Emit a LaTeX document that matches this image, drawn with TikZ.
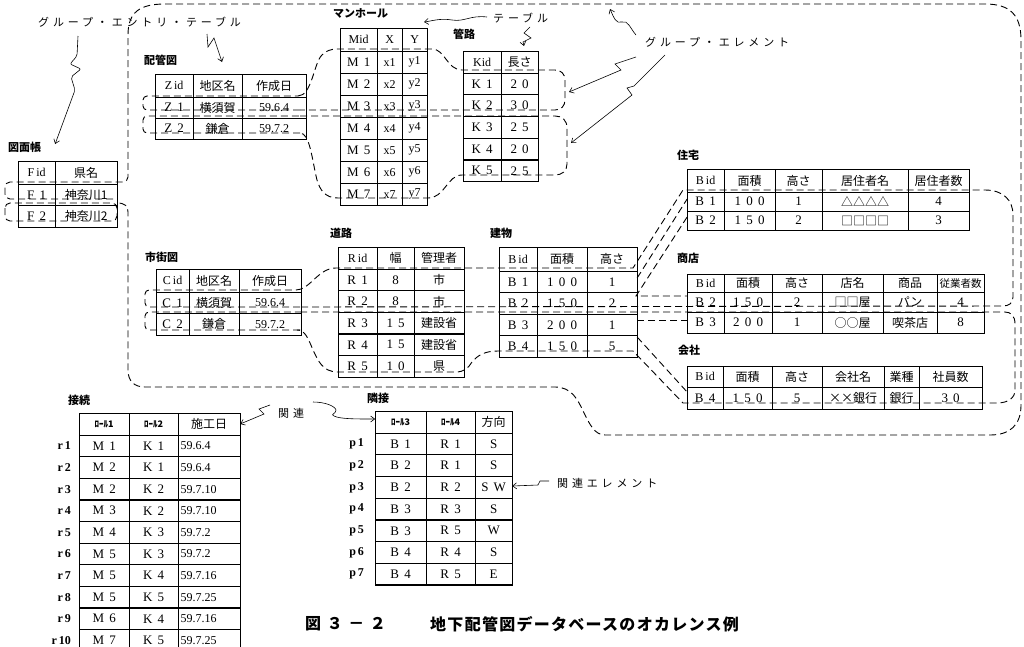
\documentclass[tikz,border=0pt]{standalone}
\usepackage{fontspec}
\usetikzlibrary{matrix,arrows.meta}
\setmainfont{Liberation Serif}
\newfontfamily\jp{Noto Sans CJK JP}
\newfontfamily\jpsp[LetterSpace=35]{Noto Sans CJK JP}
\newfontfamily\jpcap[LetterSpace=8]{Noto Sans CJK JP}
\newfontfamily\jpcapw[LetterSpace=35]{Noto Sans CJK JP}
\newfontfamily\srsp[LetterSpace=40]{Liberation Serif}
\newcommand\J[1]{{\jp\fontsize{12}{12}\selectfont #1}}
\newcommand\Js[1]{{\jp\fontsize{10.5}{10.5}\selectfont #1}}
\newcommand\D[1]{{\rmfamily\fontsize{12}{12}\selectfont #1}}
\newcommand\Rl[1]{{\jp\bfseries\fontsize{9}{9}\selectfont #1}}
\tikzset{
  tbl/.style={matrix of nodes, anchor=north west, column sep=-1.2pt, row sep=-1.2pt,
    nodes={draw, line width=1.2pt, inner sep=0pt, outer sep=0pt, anchor=center,
      minimum height=#1, font=\srsp\fontsize{13}{13}\selectfont}},
  ttl/.style={anchor=west, inner sep=0pt, font=\jp\bfseries\fontsize{11}{11}\selectfont},
  lbl/.style={anchor=west, inner sep=0pt, font=\jpsp\fontsize{11}{11}\selectfont},
  rl/.style={anchor=east, inner sep=0pt, font=\bfseries\fontsize{12}{12}\selectfont},
  grp/.style={dash pattern=on 7pt off 4pt, line width=0.9pt},
  ann/.style={line width=0.6pt, -{Straight Barb[length=4pt,width=6pt]}},
}
\begin{document}
\begin{tikzpicture}[x=1pt,y=-1pt]
\useasboundingbox (0,0) rectangle (1024,646);

% ---------- titles ----------
\node[ttl] (t-fid) at (8,147) {図面帳};
\node[ttl] (t-zt) at (144,60) {配管図};
\node[ttl] (t-mh) at (333,13) {マンホール};
\node[ttl] (t-kr) at (453,34) {管路};
\node[ttl] (t-ct) at (145,257) {市街図};
\node[ttl] (t-rd) at (330,233) {道路};
\node[ttl] (t-bd) at (490,233) {建物};
\node[ttl] (t-hs) at (677,155) {住宅};
\node[ttl] (t-sh) at (677,258) {商店};
\node[ttl] (t-co) at (678,350) {会社};
\node[ttl] (t-cn) at (68,400) {接続};
\node[ttl] (t-nb) at (367,398) {隣接};

% ---------- tables ----------
\matrix[tbl=21.5pt, row 1/.style={nodes={minimum height=23pt}},
  column 1/.style={nodes={minimum width=37pt}}, column 2/.style={nodes={minimum width=62pt}}]
  (fid) at (14,157) {
  \D{F\,id} & \J{県名}\\ F1 & \J{神奈川1}\\ F2 & \J{神奈川2}\\};

\matrix[tbl=21pt, row 1/.style={nodes={minimum height=23pt}},
  column 1/.style={nodes={minimum width=38pt}}, column 2/.style={nodes={minimum width=49pt}},
  column 3/.style={nodes={minimum width=64pt}}]
  (zt) at (151,70) {
  \D{Z\,id} & \J{地区名} & \J{作成日}\\ Z1 & \J{横須賀} & \D{59.6.4}\\ Z2 & \J{鎌倉} & \D{59.7.2}\\};

\matrix[tbl=22pt, row 1/.style={nodes={minimum height=23pt}},
  column 1/.style={nodes={minimum width=37pt}}, column 2/.style={nodes={minimum width=25pt}},
  column 3/.style={nodes={minimum width=25pt}}]
  (mh) at (336,24) {
  \D{Mid} & \D{X} & \D{Y}\\
  M1 & \D{x1} & \D{y1}\\ M2 & \D{x2} & \D{y2}\\ M3 & \D{x3} & \D{y3}\\ M4 & \D{x4} & \D{y4}\\
  M5 & \D{x5} & \D{y5}\\ M6 & \D{x6} & \D{y6}\\ M7 & \D{x7} & \D{y7}\\};

\matrix[tbl=21.7pt, row 1/.style={nodes={minimum height=22pt}},
  column 1/.style={nodes={minimum width=38pt}}, column 2/.style={nodes={minimum width=37pt}}]
  (kr) at (459,47) {
  \D{Kid} & \J{長さ}\\ K1 & 20\\ K2 & 30\\ K3 & 25\\ K4 & 20\\ K5 & 25\\};

\matrix[tbl=21.5pt, row 1/.style={nodes={minimum height=23pt}},
  column 1/.style={nodes={minimum width=33pt}}, column 2/.style={nodes={minimum width=50pt}},
  column 3/.style={nodes={minimum width=62pt}}]
  (ct) at (152,265) {
  \D{C\,id} & \J{地区名} & \J{作成日}\\ C1 & \J{横須賀} & \D{59.6.4}\\ C2 & \J{鎌倉} & \D{59.7.2}\\};

\matrix[tbl=21.6pt, row 1/.style={nodes={minimum height=22pt}},
  column 1/.style={nodes={minimum width=39pt}}, column 2/.style={nodes={minimum width=37pt}},
  column 3/.style={nodes={minimum width=50pt}}]
  (rd) at (334,243) {
  \D{R\,id} & \J{幅} & \J{管理者}\\ R1 & 8 & \J{市}\\ R2 & 8 & \J{市}\\
  R3 & 15 & \J{建設省}\\ R4 & 15 & \J{建設省}\\ R5 & 10 & \J{県}\\};

\matrix[tbl=21.5pt, row 1/.style={nodes={minimum height=24pt}},
  column 1/.style={nodes={minimum width=38pt}}, column 2/.style={nodes={minimum width=50pt}},
  column 3/.style={nodes={minimum width=50pt}}]
  (bd) at (495,243) {
  \D{B\,id} & \J{面積} & \J{高さ}\\ B1 & 100 & 1\\ B2 & 150 & 2\\ B3 & 200 & 1\\ B4 & 150 & 5\\};

\matrix[tbl=19pt, row 1/.style={nodes={minimum height=23pt}},
  column 1/.style={nodes={minimum width=37pt}}, column 2/.style={nodes={minimum width=51pt}},
  column 3/.style={nodes={minimum width=47pt}}, column 4/.style={nodes={minimum width=86pt}},
  column 5/.style={nodes={minimum width=61pt}}]
  (hs) at (683,165) {
  \D{B\,id} & \J{面積} & \J{高さ} & \J{居住者名} & \J{居住者数}\\
  B1 & 100 & 1 & \J{△△△△} & 4\\ B2 & 150 & 2 & \J{□□□□} & 3\\};

\matrix[tbl=20pt, row 1/.style={nodes={minimum height=18pt}}, row 3/.style={nodes={minimum height=21pt}},
  column 1/.style={nodes={minimum width=37pt}}, column 2/.style={nodes={minimum width=48pt}},
  column 3/.style={nodes={minimum width=50pt}}, column 4/.style={nodes={minimum width=61pt}},
  column 5/.style={nodes={minimum width=54pt}}, column 6/.style={nodes={minimum width=47pt}}]
  (sh) at (683,270) {
  \D{B\,id} & \J{面積} & \J{高さ} & \J{店名} & \J{商品} & \Js{従業者数}\\
  B2 & 150 & 2 & \J{□□屋} & \J{パン} & 4\\ B3 & 200 & 1 & \J{○○屋} & \J{喫茶店} & 8\\};

\matrix[tbl=22pt, row 1/.style={nodes={minimum height=21pt}},
  column 1/.style={nodes={minimum width=36pt}}, column 2/.style={nodes={minimum width=49pt}},
  column 3/.style={nodes={minimum width=50pt}}, column 4/.style={nodes={minimum width=62pt}},
  column 5/.style={nodes={minimum width=35pt}}, column 6/.style={nodes={minimum width=63pt}}]
  (co) at (683,362) {
  \D{B\,id} & \J{面積} & \J{高さ} & \J{会社名} & \J{業種} & \J{社員数}\\
  B4 & 150 & 5 & \J{××銀行} & \J{銀行} & 30\\};

\matrix[tbl=21.6pt, row 1/.style={nodes={minimum height=22pt}},
  column 1/.style={nodes={minimum width=50pt}}, column 2/.style={nodes={minimum width=49pt}},
  column 3/.style={nodes={minimum width=62pt, text width=57pt, inner xsep=2.5pt, align=left}}]
  (cn) at (75,409) {
  \Rl{ﾛｰﾙ1} & \Rl{ﾛｰﾙ2} & |[align=center]| \J{施工日}\\
  M1 & K1 & \D{59.6.4}\\ M2 & K1 & \D{59.6.4}\\ M2 & K2 & \D{59.7.10}\\ M3 & K2 & \D{59.7.10}\\
  M4 & K3 & \D{59.7.2}\\ M5 & K3 & \D{59.7.2}\\ M5 & K4 & \D{59.7.16}\\ M5 & K5 & \D{59.7.25}\\
  M6 & K4 & \D{59.7.16}\\ M7 & K5 & \D{59.7.25}\\};

\matrix[tbl=21.7pt, row 1/.style={nodes={minimum height=22pt}},
  column 1/.style={nodes={minimum width=51pt}}, column 2/.style={nodes={minimum width=49pt}},
  column 3/.style={nodes={minimum width=37pt}}]
  (nb) at (371,407) {
  \Rl{ﾛｰﾙ3} & \Rl{ﾛｰﾙ4} & \J{方向}\\
  B1 & R1 & S\\ B2 & R1 & S\\ B2 & R2 & SW\\ B3 & R3 & S\\ B3 & R5 & W\\ B4 & R4 & S\\ B4 & R5 & E\\};

% row labels
\foreach \i in {1,...,10}{\pgfmathtruncatemacro\j{\i+1}
  \node[rl] (r\i) at ([xshift=-8pt]cn-\j-1.west) {r\,\i};}
\foreach \i in {1,...,7}{\pgfmathtruncatemacro\j{\i+1}
  \node[rl] (p\i) at ([xshift=-11pt]nb-\j-1.west) {p\,\i};}

% ---------- group outlines ----------
% F1 / F2 big outline
\draw[grp, rounded corners=5pt] (113,199) -- (5,199) -- (5,182) -- (128,182) -- (128,100);
\draw[grp] (128,100) -- (128,35) .. controls (128,12) and (140,4) .. (165,4) -- (985,4)
  .. controls (1010,4) and (1021,15) .. (1021,40) -- (1021,405)
  .. controls (1021,425) and (1010,435) .. (990,435) -- (605,435)
  .. controls (595,435) and (590,425) .. (584,413) .. controls (578,400) and (572,387) .. (555,387)
  -- (145,387) .. controls (134,387) and (128,381) .. (128,370) -- (128,212)
  .. controls (128,206) and (125,203) .. (117,203);
\draw[grp, rounded corners=5pt] (5,203) rectangle (117,221);

% Z1 group
\draw[grp, rounded corners=4pt] (300,110) -- (143,110) -- (143,96) -- (298,96);
\draw[grp] (298,96) .. controls (312,96) and (314,62) .. (322,55) .. controls (326,51) and (330,49) .. (338,49)
  -- (432,49) .. controls (445,49) and (447,70) .. (462,70) -- (555,70)
  .. controls (561,70) and (565,74) .. (565,80) -- (565,100) .. controls (565,106) and (561,110) .. (555,110) -- (300,110);
% Z2 group
\draw[grp, rounded corners=4pt] (300,133) -- (143,133) -- (143,116) -- (300,116);
\draw[grp] (300,116) -- (555,116) .. controls (562,116) and (567,120) .. (567,128) -- (567,164)
  .. controls (567,171) and (562,175) .. (555,175) -- (462,175) .. controls (447,175) and (445,198) .. (428,198)
  -- (338,198) .. controls (325,198) and (320,190) .. (317,180) .. controls (312,160) and (310,133) .. (300,133);

% C1 group
\draw[grp, rounded corners=4pt] (300,307) -- (145,307) -- (145,290) -- (296,290);
\draw[grp] (296,290) .. controls (310,290) and (318,268) .. (336,268) -- (633,268) -- (683,190) -- (985,190)
  .. controls (1003,190) and (1013,200) .. (1013,215) -- (1013,297)
  .. controls (1013,303) and (1009,306) .. (1003,306) -- (300,307);
% C2 group
\draw[grp, rounded corners=4pt] (300,330) -- (145,330) -- (145,312) -- (300,312);
\draw[grp] (300,312) -- (1005,312) .. controls (1011,312) and (1015,316) .. (1015,324) -- (1015,390)
  .. controls (1015,398) and (1008,403) .. (997,403) -- (683,403) -- (633,351) -- (498,351)
  .. controls (485,351) and (478,355) .. (472,362) .. controls (468,368) and (465,372) .. (455,372)
  -- (338,372) .. controls (322,372) and (318,360) .. (313,350) .. controls (308,338) and (305,330) .. (297,330) -- (300,330);

% links from 建物 to subtype records
\draw[grp] (bd-2-3.east |- 0,278) -- (hs-2-1.west |- 0,199);
\draw[grp] (hs-3-1.west |- 0,217) -- (636,296) -- (sh-2-1.west |- 0,296);
\draw[grp] (bd-4-3.east |- 0,320) -- (sh-3-1.west |- 0,320);
\draw[grp] (bd-5-3.east |- 0,337) -- (co-2-1.west |- 0,392);

% ---------- annotations ----------
\node[lbl] (l-entry) at (38,22) {グループ・エントリ・テーブル};
\node[lbl] (l-table) at (493,18) {テーブル};
\node[lbl] (l-elem) at (645,42) {グループ・エレメント};
\node[lbl] (l-rel) at (278,413) {関連};
\node[lbl] (l-relel) at (557,483) {関連エレメント};

\coordinate (a1) at (78,36);
\draw[ann, rounded corners=2pt] (a1) -- (77,56) -- (70,64) -- (81,69) -- (71,77) -- (75,90) -- (fid-1-2.north west |- 0,144);
\coordinate (a2) at (207,34);
\draw[ann] (a2) -- (208,47) -- (214,38) -- (222,62);
\coordinate (a3) at (487,17);
\draw[ann] (a3) .. controls (470,15) and (465,22) .. (452,20) .. controls (440,18) and (432,21) .. (424,22);
\coordinate (a4) at (530,27);
\draw[ann] (a4) -- (524,33) -- (531,38) -- (523,42) -- (524,46);
\coordinate (a5) at (636,35);
\draw[ann] (a5) .. controls (630,28) and (628,20) .. (622,22) .. controls (616,24) and (614,18) .. (610,9);
\coordinate (a6) at (636,57);
\draw[ann] (a6) -- (615,64) -- (621,70) -- (569,92);
\coordinate (a7) at (665,55);
\draw[ann] (a7) -- (634,86) -- (627,88) -- (632,95) -- (571,143);
\coordinate (a8) at (270,405);
\draw[ann] (a8) -- (259,409) -- (264,414) -- (cn-1-3.east |- 0,424);
\coordinate (a9) at (313,402);
\draw[ann] (a9) .. controls (325,402) and (335,406) .. (336,410) .. controls (336,414) and (330,414) .. (334,416)
  .. controls (340,419) and (355,419) .. (nb-1-1.west |- 0,419);
\coordinate (a10) at (549,481);
\draw[ann] (a10) -- (540,481) -- (538,485) -- (nb-4-3.east |- 0,486);

% ---------- caption ----------
\node[anchor=west, inner sep=0pt, font=\jpcapw\bfseries\fontsize{16}{16}\selectfont] (cap1) at (305,624) {図３－２};
\node[anchor=west, inner sep=0pt, font=\jpcap\bfseries\fontsize{16}{16}\selectfont] (cap2) at (430,624) {地下配管図データベースのオカレンス例};
\end{tikzpicture}
\end{document}
